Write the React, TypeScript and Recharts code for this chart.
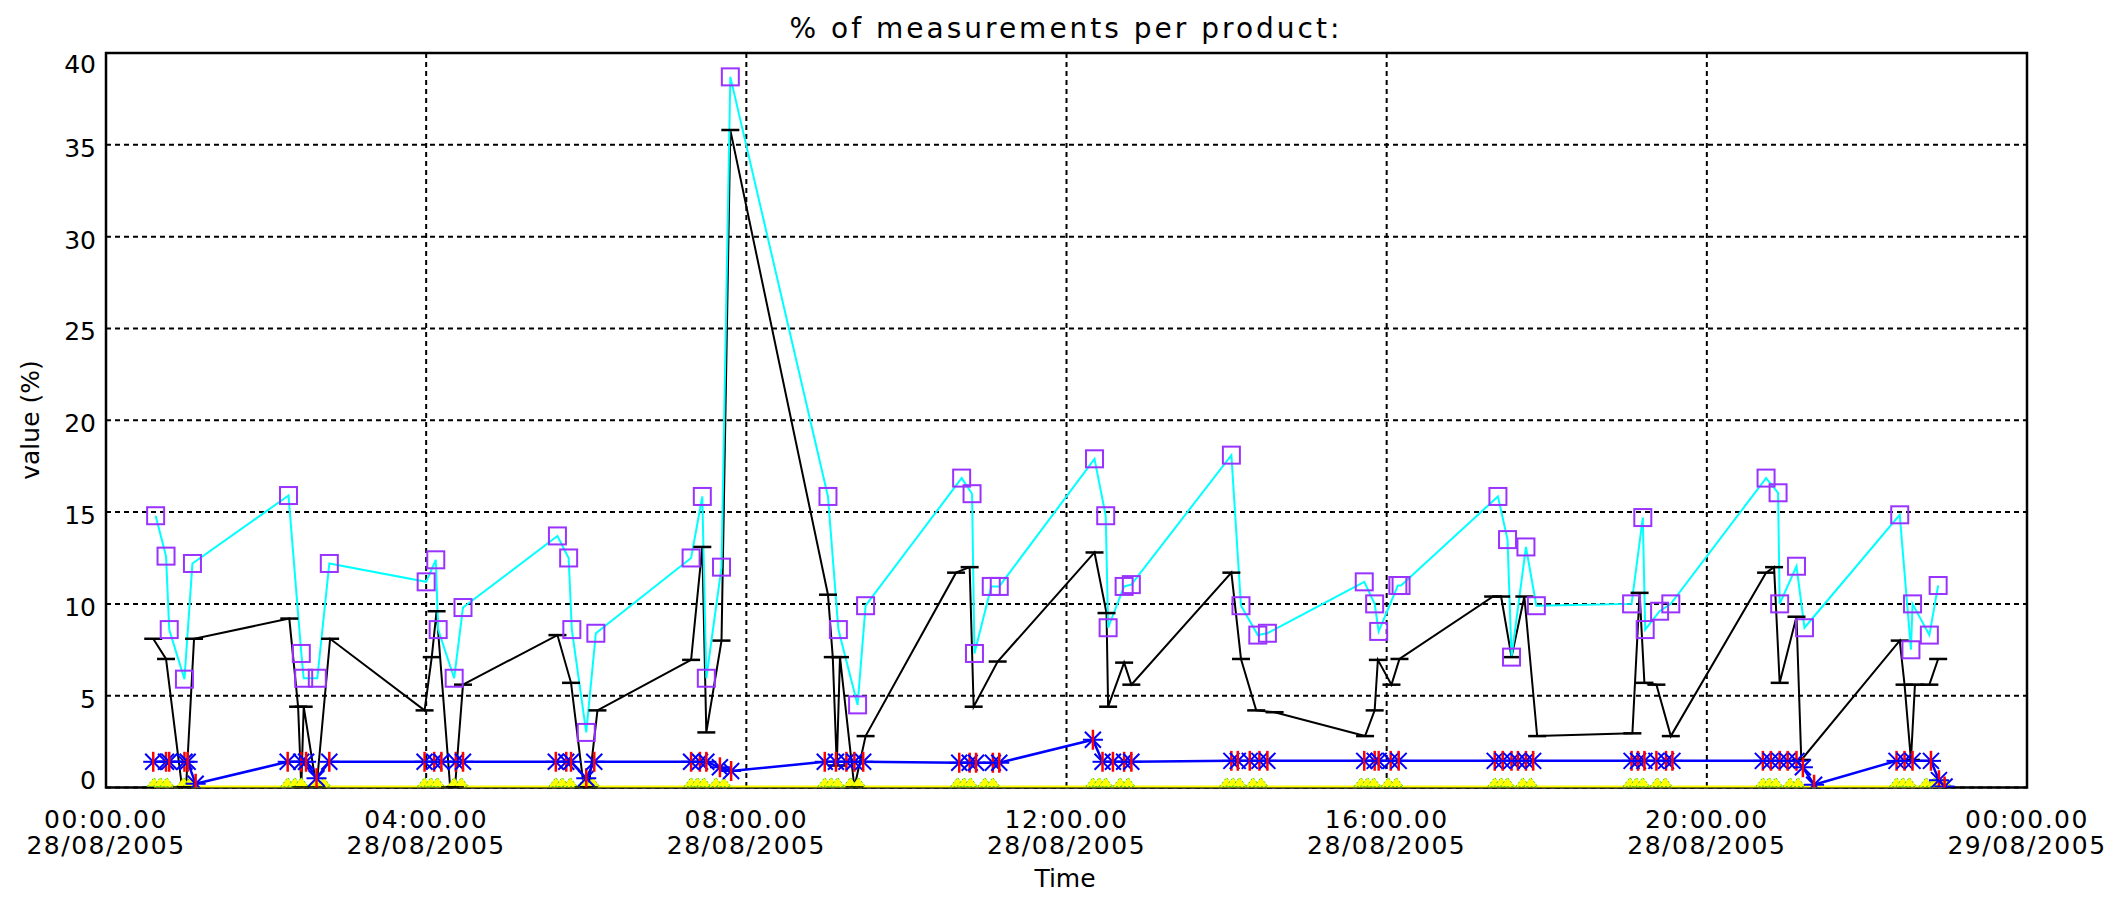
import { LineChart, Line, XAxis, YAxis, CartesianGrid, ReferenceArea } from 'recharts'

const W = 2112
const H = 883
const FONT = 'DejaVu Sans'

// hours since 00:00 28/08/2005, value in %
const hourTicks = [0, 4, 8, 12, 16, 20, 24]
const tickTimes = ['00:00.00', '04:00.00', '08:00.00', '12:00.00', '16:00.00', '20:00.00', '00:00.00']
const tickDates = ['28/08/2005', '28/08/2005', '28/08/2005', '28/08/2005', '28/08/2005', '28/08/2005', '29/08/2005']
const valueTicks = [0, 5, 10, 15, 20, 25, 30, 35, 40]

const cyanPoints: [number, number][] = [
  [0.62, 14.8], [0.75, 12.6], [0.79, 8.6], [0.98, 5.9], [1.08, 12.2],
  [2.28, 15.9], [2.44, 7.3], [2.47, 5.95], [2.64, 5.95], [2.79, 12.2],
  [4.0, 11.2], [4.12, 12.4], [4.15, 8.6], [4.35, 5.95], [4.46, 9.8],
  [5.64, 13.7], [5.78, 12.5], [5.82, 8.6], [6.0, 3.0], [6.12, 8.4],
  [7.31, 12.5], [7.45, 15.85], [7.5, 5.95], [7.69, 12.0], [7.8, 38.7],
  [9.02, 15.85], [9.15, 8.6], [9.39, 4.5], [9.49, 9.9],
  [10.69, 16.85], [10.82, 16.0], [10.85, 7.3], [11.06, 10.95], [11.16, 10.95],
  [12.35, 17.9], [12.49, 14.8], [12.52, 8.7], [12.72, 10.95], [12.81, 11.05],
  [14.06, 18.1], [14.18, 9.9], [14.39, 8.3], [14.51, 8.4],
  [15.72, 11.2], [15.85, 10.0], [15.9, 8.5], [16.14, 11.0], [16.18, 11.0],
  [17.39, 15.85], [17.51, 13.5], [17.56, 7.1], [17.74, 13.1], [17.87, 9.9],
  [19.06, 10.0], [19.2, 14.7], [19.23, 8.6], [19.41, 9.6], [19.55, 10.0],
  [20.74, 16.85], [20.89, 16.05], [20.91, 10.0], [21.12, 12.05], [21.22, 8.7],
  [22.41, 14.85], [22.55, 7.5], [22.57, 10.0], [22.78, 8.3], [22.89, 11.0],
]

const blackPoints: [number, number][] = [
  [0.59, 8.1], [0.75, 7.0], [0.95, 0], [1.0, 0], [1.1, 8.1],
  [2.29, 9.2], [2.4, 4.4], [2.44, 0], [2.47, 4.4], [2.63, 0], [2.8, 8.1],
  [3.98, 4.2], [4.07, 7.1], [4.13, 9.6], [4.3, 0], [4.36, 0], [4.46, 5.6],
  [5.64, 8.3], [5.81, 5.7], [5.97, 0], [6.03, 0], [6.14, 4.2],
  [7.31, 6.95], [7.45, 13.1], [7.5, 3.0], [7.69, 8.0], [7.8, 35.8],
  [9.02, 10.5], [9.08, 7.1], [9.13, 1.2], [9.17, 7.1], [9.35, 0], [9.49, 2.8],
  [10.62, 11.7], [10.79, 12.0], [10.84, 4.4], [11.14, 6.86],
  [12.35, 12.8], [12.5, 9.5], [12.52, 4.4], [12.72, 6.8], [12.81, 5.6],
  [14.06, 11.7], [14.18, 7.0], [14.37, 4.2], [14.6, 4.1],
  [15.73, 2.8], [15.85, 4.2], [15.89, 6.95], [16.06, 5.6], [16.16, 7.0],
  [17.33, 10.4], [17.43, 10.4], [17.56, 7.1], [17.72, 10.4], [17.88, 2.8],
  [19.07, 2.95], [19.16, 10.6], [19.22, 5.7], [19.37, 5.6], [19.55, 2.8],
  [20.74, 11.7], [20.84, 12.0], [20.91, 5.7], [21.12, 9.3], [21.18, 1.5],
  [22.41, 8.0], [22.47, 5.6], [22.55, 1.5], [22.6, 5.6], [22.78, 5.6], [22.89, 7.0],
]

const bluePoints: [number, number][] = [
  [0.59, 1.4], [0.75, 1.4], [0.79, 1.4], [0.98, 1.4], [1.02, 1.4], [1.12, 0.2],
  [2.27, 1.4], [2.44, 1.4], [2.5, 1.4], [2.63, 0.5], [2.79, 1.4],
  [3.98, 1.4], [4.1, 1.4], [4.19, 1.4], [4.37, 1.4], [4.46, 1.4],
  [5.62, 1.4], [5.75, 1.4], [5.81, 1.4], [6.0, 0.5], [6.1, 1.4],
  [7.31, 1.4], [7.42, 1.4], [7.5, 1.4], [7.67, 1.1], [7.81, 0.9],
  [8.98, 1.4], [9.12, 1.4], [9.25, 1.4], [9.35, 1.4], [9.46, 1.4],
  [10.66, 1.35], [10.79, 1.35], [10.87, 1.35], [11.08, 1.35], [11.16, 1.35],
  [12.33, 2.6], [12.45, 1.4], [12.58, 1.4], [12.72, 1.4], [12.81, 1.4],
  [14.06, 1.45], [14.14, 1.45], [14.29, 1.45], [14.41, 1.45], [14.51, 1.45],
  [15.72, 1.45], [15.85, 1.45], [15.9, 1.45], [16.05, 1.45], [16.15, 1.45],
  [17.35, 1.45], [17.45, 1.45], [17.56, 1.45], [17.64, 1.45], [17.74, 1.45], [17.83, 1.45],
  [19.06, 1.45], [19.14, 1.45], [19.22, 1.45], [19.37, 1.45], [19.49, 1.45], [19.57, 1.45],
  [20.7, 1.45], [20.8, 1.45], [20.91, 1.45], [21.01, 1.45], [21.12, 1.45], [21.2, 1.1], [21.34, 0.15],
  [22.37, 1.45], [22.47, 1.45], [22.57, 1.45], [22.8, 1.45], [22.9, 0.4], [22.97, 0.05],
]

const yellowPoints: [number, number][] = [
  [0.6, 0], [0.68, 0], [0.76, 0], [0.97, 0], [1.05, 0],
  [2.27, 0], [2.36, 0], [2.44, 0], [2.62, 0], [2.72, 0],
  [3.98, 0], [4.06, 0], [4.14, 0], [4.35, 0], [4.44, 0],
  [5.62, 0], [5.7, 0], [5.8, 0], [5.98, 0], [6.08, 0],
  [7.31, 0], [7.39, 0], [7.47, 0], [7.62, 0], [7.72, 0],
  [8.98, 0], [9.06, 0], [9.14, 0], [9.3, 0], [9.4, 0],
  [10.64, 0], [10.72, 0], [10.8, 0], [10.98, 0], [11.08, 0],
  [12.33, 0], [12.41, 0], [12.49, 0], [12.67, 0], [12.77, 0],
  [14.0, 0], [14.08, 0], [14.16, 0], [14.33, 0], [14.43, 0],
  [15.68, 0], [15.76, 0], [15.84, 0], [16.02, 0], [16.12, 0],
  [17.35, 0], [17.43, 0], [17.51, 0], [17.7, 0], [17.8, 0],
  [19.04, 0], [19.12, 0], [19.2, 0], [19.38, 0], [19.48, 0],
  [20.7, 0], [20.78, 0], [20.86, 0], [21.04, 0], [21.14, 0],
  [22.37, 0], [22.45, 0], [22.53, 0], [22.74, 0], [22.84, 0], [22.97, 0],
]

const toRows = (pts: [number, number][]) => pts.map(([t, v]) => ({ t, v }))

const squareDot = (p: any) => {
  if (p.cx == null || p.cy == null) return <g key={`s${p.index}`} />
  return (
    <rect key={`s${p.index}`} x={p.cx - 8.5} y={p.cy - 8.5} width={17} height={17}
      fill="none" stroke="#9933ff" strokeWidth={2} />
  )
}

const dashDot = (p: any) => {
  if (p.cx == null || p.cy == null) return <g key={`b${p.index}`} />
  return <line key={`b${p.index}`} x1={p.cx - 9} x2={p.cx + 9} y1={p.cy} y2={p.cy} stroke="#000" strokeWidth={2.5} />
}

const starDot = (p: any) => {
  if (p.cx == null || p.cy == null) return <g key={`a${p.index}`} />
  const r = 10
  const d = 8
  return (
    <g key={`a${p.index}`}>
      <line x1={p.cx - d} y1={p.cy - d} x2={p.cx + d} y2={p.cy + d} stroke="#0000ff" strokeWidth={2} />
      <line x1={p.cx - d} y1={p.cy + d} x2={p.cx + d} y2={p.cy - d} stroke="#0000ff" strokeWidth={2} />
      <line x1={p.cx - r} y1={p.cy} x2={p.cx + r} y2={p.cy} stroke="#0000ff" strokeWidth={2} />
      <line x1={p.cx} y1={p.cy - r} x2={p.cx} y2={p.cy + r} stroke="#ff0000" strokeWidth={2.5} />
    </g>
  )
}

const triDot = (p: any) => {
  if (p.cx == null || p.cy == null) return <g key={`y${p.index}`} />
  return (
    <polygon key={`y${p.index}`}
      points={`${p.cx - 7},${p.cy - 1} ${p.cx},${p.cy - 10} ${p.cx + 7},${p.cy - 1}`}
      fill="#ffff00" stroke="#44cc22" strokeWidth={1} strokeDasharray="2 2" />
  )
}

const TimeTick = (props: any) => {
  const { x, y, payload, index } = props
  const i = index ?? hourTicks.indexOf(payload.value)
  return (
    <text x={x} textAnchor="middle" fontFamily={FONT} fontSize={25} letterSpacing={1.5} fill="#000">
      <tspan x={x} y={y + 40}>{tickTimes[i]}</tspan>
      <tspan x={x} y={y + 66}>{tickDates[i]}</tspan>
    </text>
  )
}

const ValueTick = (props: any) => {
  const { x, y, payload } = props
  let dy = 12
  if (payload.value === 0) dy = 1.5
  if (payload.value === 40) dy = 20
  return (
    <text x={x} y={y + dy} textAnchor="end" fontFamily={FONT} fontSize={25} fill="#000">
      {payload.value}
    </text>
  )
}

export default function App() {
  return (
    <div style={{ position: 'relative', width: W, height: H, background: '#fff' }}>
      <LineChart width={W} height={H} margin={{ top: 45, right: 93, bottom: 0, left: 0 }}>
        <CartesianGrid stroke="#000" strokeDasharray="5 4" strokeWidth={2} />
        <XAxis type="number" dataKey="t" domain={[0, 24]} ticks={hourTicks} interval={0}
          height={103.5} tickSize={0} tickMargin={0} tickLine={false} axisLine={false} tick={TimeTick} allowDataOverflow />
        <YAxis type="number" domain={[0, 40]} ticks={valueTicks} interval={0}
          width={98} tickSize={0} tickMargin={10} tickLine={false} axisLine={false} tick={ValueTick} allowDataOverflow />
        <ReferenceArea x1={0} x2={24} y1={0} y2={40} fill="#fff" fillOpacity={0} stroke="#000" strokeWidth={2.5} />
        <Line data={toRows(yellowPoints)} dataKey="v" type="linear" stroke="#ffff00" strokeWidth={4}
          dot={triDot} activeDot={false} isAnimationActive={false} />
        <Line data={toRows(blackPoints)} dataKey="v" type="linear" stroke="#000" strokeWidth={2}
          dot={dashDot} activeDot={false} isAnimationActive={false} />
        <Line data={toRows(bluePoints)} dataKey="v" type="linear" stroke="#0000ff" strokeWidth={2.5}
          dot={starDot} activeDot={false} isAnimationActive={false} />
        <Line data={toRows(cyanPoints)} dataKey="v" type="linear" stroke="#00ffff" strokeWidth={2}
          dot={squareDot} activeDot={false} isAnimationActive={false} />
      </LineChart>
      <svg width={W} height={H + 8} style={{ position: 'absolute', left: 0, top: 0, pointerEvents: 'none' }}>
        <text x={1058} y={30} textAnchor="middle" fontFamily={FONT} fontSize={28} letterSpacing={3} fill="#000">
          % of measurements per product:
        </text>
        <text x={31} y={412} transform="rotate(-90, 31, 412)" textAnchor="middle" fontFamily={FONT} fontSize={25} fill="#000">
          value (%)
        </text>
        <text x={1057} y={879} textAnchor="middle" fontFamily={FONT} fontSize={25} fill="#000">
          Time
        </text>
      </svg>
    </div>
  )
}
